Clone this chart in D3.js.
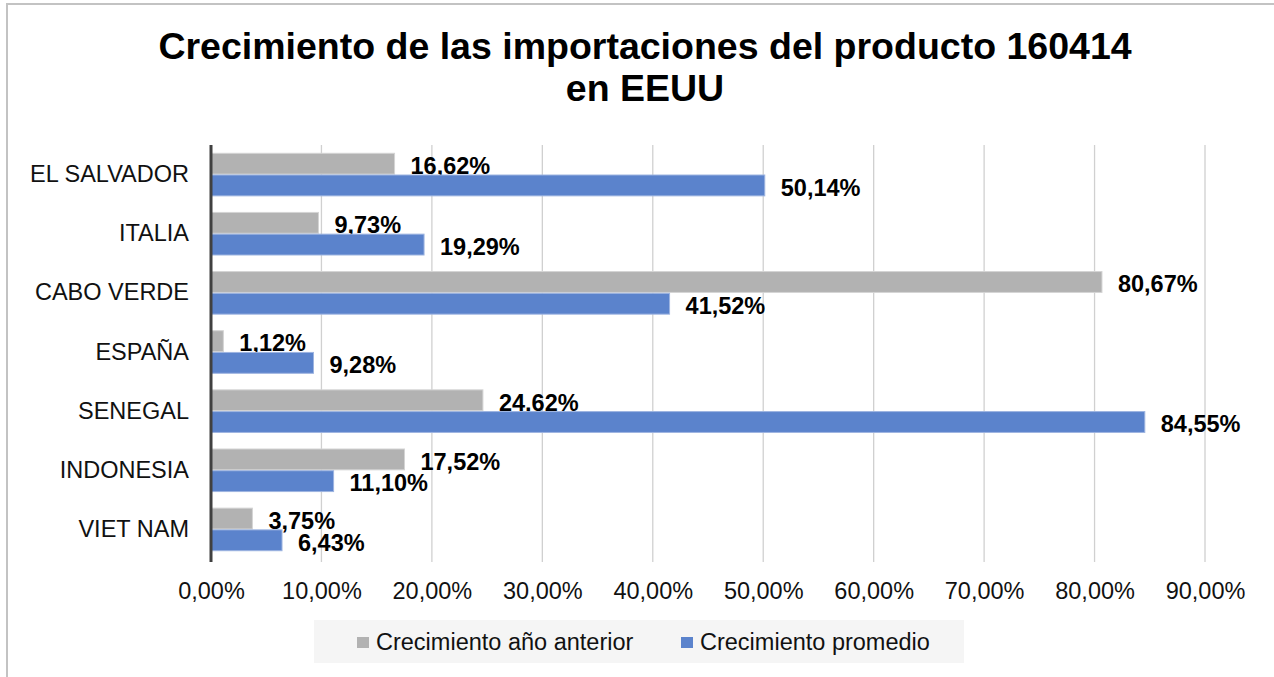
<!DOCTYPE html>
<html>
<head>
<meta charset="utf-8">
<script src="https://cdn.jsdelivr.net/npm/d3@7"></script>
<style>
  body { margin: 0; background: #fff; }
  text { font-family: Arial, "Liberation Sans", sans-serif; }
</style>
</head>
<body>
<div id="chart"></div>
<script>
// chart data
var countries = ["EL SALVADOR", "ITALIA", "CABO VERDE", "ESPAÑA", "SENEGAL", "INDONESIA", "VIET NAM"];
var prevYear = [16.62, 9.73, 80.67, 1.12, 24.62, 17.52, 3.75];
var average = [50.14, 19.29, 41.52, 9.28, 84.55, 11.10, 6.43];
var seriesNames = ["Crecimiento año anterior", "Crecimiento promedio"];
var xTicks = [0, 10, 20, 30, 40, 50, 60, 70, 80, 90];

var svgWidth = 1274;
var svgHeight = 677;
var colors = ["#b2b2b2", "#5b83cc"];

var margin = { top: 145, right: 69, bottom: 115, left: 211 };
var width = svgWidth - margin.left - margin.right;
var height = svgHeight - margin.top - margin.bottom;

var svg = d3.select("#chart")
  .append("svg")
  .attr("width", svgWidth)
  .attr("height", svgHeight);

// outer border
svg.append("path")
  .attr("d", "M7," + svgHeight + " L7,4 L" + svgWidth + ",4")
  .attr("fill", "none")
  .attr("stroke", "#c3c3c3")
  .attr("stroke-width", 2);

// title
var title = svg.append("text")
  .attr("text-anchor", "middle")
  .style("font-size", "37.5px")
  .style("font-weight", "bold")
  .style("fill", "#000");
title.append("tspan").attr("x", 645).attr("y", 59).text("Crecimiento de las importaciones del producto 160414");
title.append("tspan").attr("x", 645).attr("y", 101).text("en EEUU");

var chartGroup = svg.append("g")
  .attr("transform", `translate(${margin.left}, ${margin.top})`);

var xScale = d3.scaleLinear()
  .domain([0, 90])
  .range([0, 994]);

var yScale = d3.scaleBand()
  .domain(countries)
  .range([0, height - 3])
  .paddingInner(0.28)
  .paddingOuter(0.14);

var inner = d3.scaleBand()
  .domain([0, 1])
  .range([0, yScale.bandwidth()])
  .paddingInner(0.04);

// gridlines
chartGroup.selectAll(".grid")
  .data(xTicks.slice(1))
  .enter()
  .append("line")
  .attr("x1", d => xScale(d))
  .attr("x2", d => xScale(d))
  .attr("y1", 0)
  .attr("y2", height)
  .attr("stroke", "#d0d0d0")
  .attr("stroke-width", 1.3);

// x axis tick labels
var bottomAxis = d3.axisBottom(xScale)
  .tickValues(xTicks)
  .tickSize(0)
  .tickPadding(20)
  .tickFormat(d => d3.format(".2f")(d).replace(".", ",") + "%");

var xAxisG = chartGroup.append("g")
  .attr("transform", `translate(0, ${height})`)
  .call(bottomAxis);
xAxisG.select(".domain").remove();
xAxisG.selectAll("text")
  .style("font-size", "23.5px")
  .style("font-family", "Arial, 'Liberation Sans', sans-serif")
  .style("fill", "#111");

// y axis labels
var leftAxis = d3.axisLeft(yScale).tickSize(0).tickPadding(22);
var yAxisG = chartGroup.append("g").call(leftAxis);
yAxisG.select(".domain").remove();
yAxisG.selectAll("text")
  .style("font-size", "23.5px")
  .style("font-family", "Arial, 'Liberation Sans', sans-serif")
  .style("fill", "#111");

// bars
var series = [prevYear, average];
series.forEach(function(vals, si) {
  var rows = countries.map((c, i) => ({ country: c, value: vals[i] }));

  chartGroup.selectAll(".bar" + si)
    .data(rows)
    .enter()
    .append("rect")
    .attr("x", 0)
    .attr("y", d => yScale(d.country) + inner(si))
    .attr("width", d => xScale(d.value))
    .attr("height", inner.bandwidth())
    .attr("fill", colors[si])
    .attr("stroke", si === 0 ? "#d4d4d4" : "#9db4e0")
    .attr("stroke-width", 1);

  chartGroup.selectAll(".label" + si)
    .data(rows)
    .enter()
    .append("text")
    .attr("x", d => xScale(d.value) + 16)
    .attr("y", d => yScale(d.country) + inner(si) + inner.bandwidth() / 2 + 2)
    .attr("dy", "0.35em")
    .style("font-size", "23.5px")
    .style("font-weight", "bold")
    .style("fill", "#000")
    .text(d => d3.format(".2f")(d.value).replace(".", ",") + "%");
});

// vertical axis line
chartGroup.append("line")
  .attr("x1", 0).attr("x2", 0)
  .attr("y1", 0).attr("y2", height)
  .attr("stroke", "#404040")
  .attr("stroke-width", 3);

// legend
var legend = svg.append("g");
legend.append("rect")
  .attr("x", 314).attr("y", 620)
  .attr("width", 650).attr("height", 43)
  .attr("fill", "#f5f5f5");

var legendX = [357, 681];
seriesNames.forEach(function(name, i) {
  legend.append("rect")
    .attr("x", legendX[i]).attr("y", 637)
    .attr("width", 12).attr("height", 11)
    .attr("fill", colors[i]);
  legend.append("text")
    .attr("x", legendX[i] + 19)
    .attr("y", 642)
    .attr("dy", "0.35em")
    .style("font-size", "23.5px")
    .style("fill", "#111")
    .text(name);
});
</script>
</body>
</html>
